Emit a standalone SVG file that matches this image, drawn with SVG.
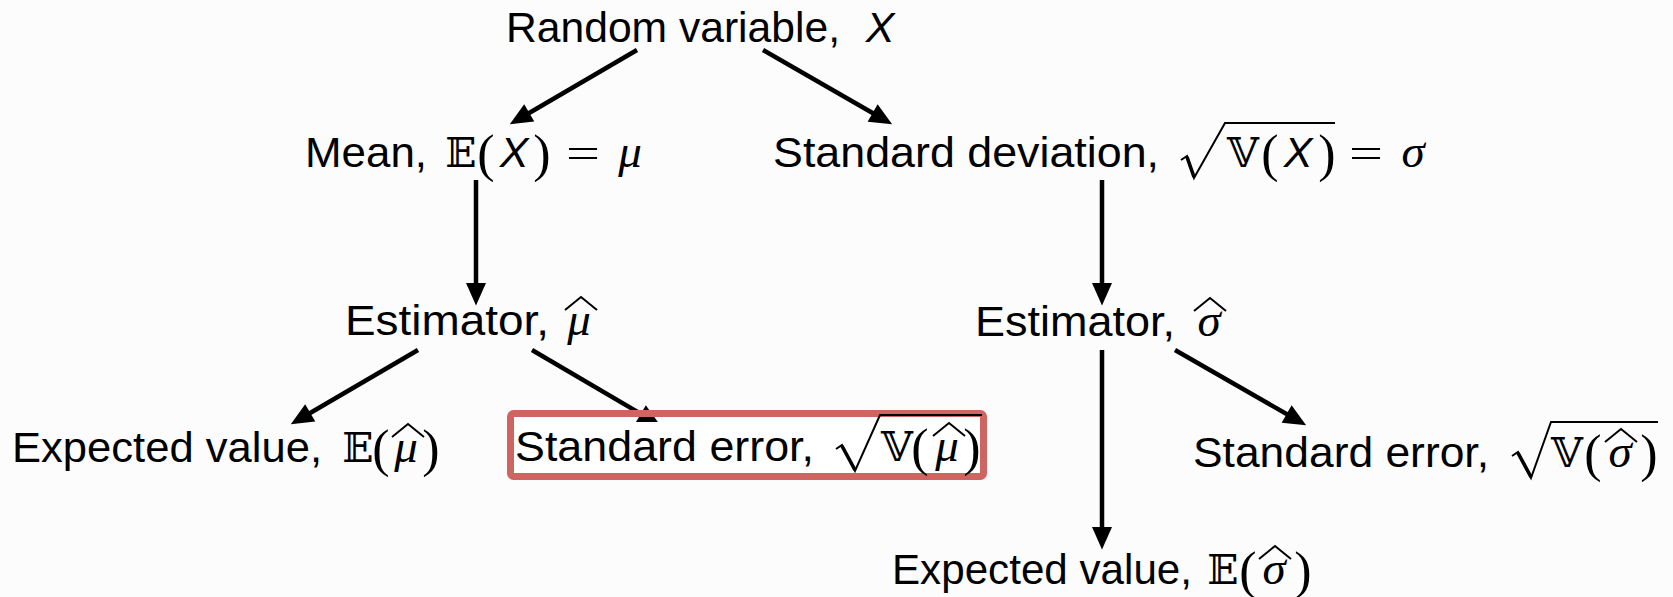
<svg xmlns="http://www.w3.org/2000/svg" width="1673" height="597" viewBox="0 0 1673 597">
<style>
.w{font-family:"Liberation Sans",Arial,sans-serif;font-size:43px;fill:#000}
.it{font-family:"Liberation Sans",Arial,sans-serif;font-style:italic;font-size:43px;fill:#000;text-anchor:middle}
.bb{font-family:"DejaVu Serif","DejaVu Sans",serif;font-size:41px;fill:#000;text-anchor:middle}
.p{font-family:"Liberation Serif","Times New Roman",serif;font-size:52px;fill:#000;text-anchor:middle}
.eq{font-family:"Liberation Serif","Times New Roman",serif;font-size:43px;fill:#000;text-anchor:middle}
.gr{font-family:"Liberation Serif","Times New Roman",serif;font-style:italic;font-size:47px;fill:#000;text-anchor:middle}
.acc{fill:none;stroke:#000;stroke-width:2;stroke-linejoin:miter}
.rad{fill:none;stroke:#000;stroke-width:2;stroke-linejoin:miter}
.radd{fill:none;stroke:#000;stroke-width:3.6}
.con{stroke:#000;stroke-width:4.5;fill:none}
</style>
<defs>
<marker id="ah" markerUnits="userSpaceOnUse" orient="auto" markerWidth="30" markerHeight="30" refX="0" refY="0" viewBox="-10 -10 24 20" overflow="visible">
<path d="M-8,-8 L10,0 L-8,8 z" fill="#000"/>
</marker>
</defs>
<rect width="1673" height="597" fill="#fcfcfc"/>
<g id="connectors">
<line class="con" x1="637" y1="50" x2="520.6" y2="118" marker-end="url(#ah)"/>
<line class="con" x1="763" y1="50" x2="881.3" y2="118" marker-end="url(#ah)"/>
<line class="con" x1="476" y1="180" x2="476" y2="293" marker-end="url(#ah)"/>
<line class="con" x1="1102" y1="180" x2="1102" y2="293" marker-end="url(#ah)"/>
<line class="con" x1="418" y1="350" x2="301.6" y2="418" marker-end="url(#ah)"/>
<line class="con" x1="532" y1="350" x2="649.4" y2="418.9" marker-end="url(#ah)"/>
<line class="con" x1="1102" y1="350" x2="1102" y2="537" marker-end="url(#ah)"/>
<line class="con" x1="1175" y1="350" x2="1295.3" y2="419" marker-end="url(#ah)"/>
</g>
<g id="n-random">
<text class="w" x="506" y="42" textLength="334" lengthAdjust="spacingAndGlyphs">Random variable,</text>
<text class="it" x="880" y="42">X</text>
</g>
<g id="n-mean">
<text class="w" x="305" y="167" textLength="122" lengthAdjust="spacingAndGlyphs">Mean,</text>
<text class="bb" x="461" y="167">𝔼</text>
<text class="p" x="486" y="171">(</text>
<text class="it" x="514" y="167">X</text>
<text class="p" x="542" y="171">)</text>
<text class="eq" x="583" y="167" textLength="34" lengthAdjust="spacingAndGlyphs">=</text>
<text class="gr" x="630" y="167">μ</text>
</g>
<g id="n-sd">
<text class="w" x="773" y="167" textLength="386" lengthAdjust="spacingAndGlyphs">Standard deviation,</text>
<polyline class="rad" points="1181,160 1187,156 1194,178 1225,123 1335,123"/>
<line class="radd" x1="1187" y1="157" x2="1194" y2="177"/>
<text class="bb" x="1243" y="167">𝕍</text>
<text class="p" x="1270" y="171">(</text>
<text class="it" x="1298" y="167">X</text>
<text class="p" x="1327" y="171">)</text>
<text class="eq" x="1366" y="167" textLength="34" lengthAdjust="spacingAndGlyphs">=</text>
<text class="gr" x="1413" y="167">σ</text>
</g>
<g id="n-est-mu">
<text class="w" x="345" y="335" textLength="204" lengthAdjust="spacingAndGlyphs">Estimator,</text>
<text class="gr" x="579" y="335">μ</text>
<polyline class="acc" points="565,310 581,297 597,310"/>
</g>
<g id="n-est-sigma">
<text class="w" x="975" y="336" textLength="200" lengthAdjust="spacingAndGlyphs">Estimator,</text>
<text class="gr" x="1209" y="336">σ</text>
<polyline class="acc" points="1194,311 1210,298 1226,311"/>
</g>
<g id="n-ev-mu">
<text class="w" x="12" y="462" textLength="310" lengthAdjust="spacingAndGlyphs">Expected value,</text>
<text class="bb" x="358" y="462">𝔼</text>
<text class="p" x="381" y="466">(</text>
<text class="gr" x="406" y="462">μ</text>
<polyline class="acc" points="392,437 408,424 424,437"/>
<text class="p" x="431" y="466">)</text>
</g>
<g id="n-se-mu">
<rect x="510.5" y="413.5" width="473" height="63" rx="3" fill="none" stroke="#cd6660" stroke-width="7"/>
<rect x="514" y="422" width="466" height="51" fill="#ffffff"/>
<text class="w" x="515" y="461" textLength="299" lengthAdjust="spacingAndGlyphs">Standard error,</text>
<polyline class="rad" points="836,449 842,445 855,471 880,415 982,415"/>
<line class="radd" x1="842" y1="446" x2="855" y2="470"/>
<text class="bb" x="897" y="461">𝕍</text>
<text class="p" x="920" y="465">(</text>
<text class="gr" x="947" y="461">μ</text>
<polyline class="acc" points="933,436 949,423 965,436"/>
<text class="p" x="972" y="465">)</text>
</g>
<g id="n-se-sigma">
<text class="w" x="1193" y="467" textLength="296" lengthAdjust="spacingAndGlyphs">Standard error,</text>
<polyline class="rad" points="1512,456 1518,452 1531,478 1551,422 1658,422"/>
<line class="radd" x1="1518" y1="453" x2="1531" y2="477"/>
<text class="bb" x="1567" y="467">𝕍</text>
<text class="p" x="1593" y="471">(</text>
<text class="gr" x="1620" y="467">σ</text>
<polyline class="acc" points="1605,442 1621,429 1637,442"/>
<text class="p" x="1649" y="471">)</text>
</g>
<g id="n-ev-sigma">
<text class="w" x="892" y="584" textLength="300" lengthAdjust="spacingAndGlyphs">Expected value,</text>
<text class="bb" x="1223" y="584">𝔼</text>
<text class="p" x="1248" y="588">(</text>
<text class="gr" x="1274" y="584">σ</text>
<polyline class="acc" points="1259,559 1275,546 1291,559"/>
<text class="p" x="1303" y="588">)</text>
</g>
</svg>
